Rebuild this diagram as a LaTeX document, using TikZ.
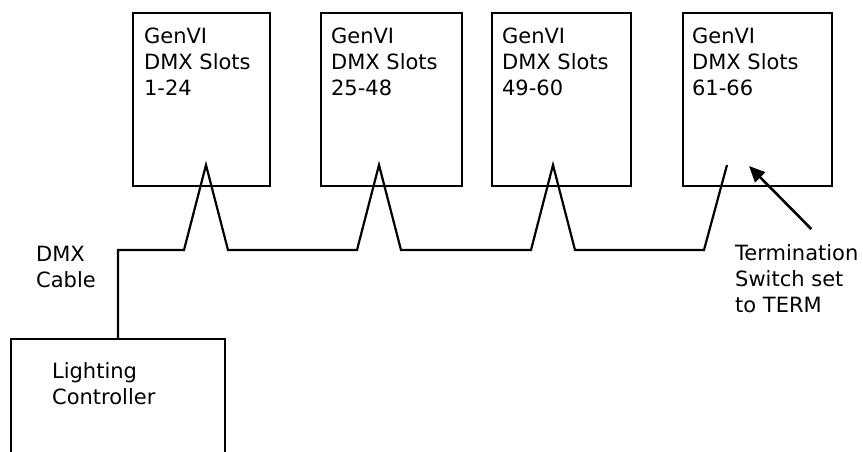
\documentclass[tikz,border=0pt]{standalone}
\usepackage{fontspec}
\setmainfont{DejaVu Sans}
\usetikzlibrary{positioning, arrows.meta}

\begin{document}
\begin{tikzpicture}[
		x=1pt, y=-1pt,
		font=\fontsize{21}{26}\selectfont,
		unit/.style={draw, line width=2.2pt, minimum height=173pt, inner sep=0pt},
		boxtext/.style={align=left, inner sep=0pt, anchor=north west},
		cable/.style={line width=2.2pt},
		pointer/.style={line width=2.6pt, -{Triangle[length=16pt, width=14pt]}}
	]

		\useasboundingbox (0,0) rectangle (863,452);
		\clip (0,0) rectangle (863,452);

		% Equipos GenVI
		\node[unit, minimum width=137pt] (g1) at (201.5,99.5) {};
		\node[unit, minimum width=141pt] (g2) at (391.5,99.5) {};
		\node[unit, minimum width=139pt] (g3) at (561.5,99.5) {};
		\node[unit, minimum width=149pt] (g4) at (757.5,99.5) {};

		\node[boxtext] (t1) [below right=15.5pt and 12pt of g1.north west] {GenVI\\DMX Slots\\1-24};
		\node[boxtext] (t2) [below right=15.5pt and 11pt of g2.north west] {GenVI\\DMX Slots\\25-48};
		\node[boxtext] (t3) [below right=15.5pt and 11pt of g3.north west] {GenVI\\DMX Slots\\49-60};
		\node[boxtext] (t4) [below right=15.5pt and 10pt of g4.north west] {GenVI\\DMX Slots\\61-66};

		% Controlador (abierto por abajo)
		\node[unit, minimum width=214pt, minimum height=200pt] (ctrl) at (118,439) {};
		\node[boxtext] (ctrltext) [below right=24pt and 42pt of ctrl.north west] {Lighting\\Controller};

		% Cable DMX
		\node[boxtext] (dmx) at (36,245.5) {DMX\\Cable};
		\coordinate (sw) at (727,165);
		\draw[cable] (ctrl.north) |- (184,250) -- (206,165) -- (228,250)
			-- (357,250) -- (379,165) -- (401,250)
			-- (531,250) -- (553,165) -- (575,250)
			-- (704,250) -- (sw);

		% Terminacion
		\coordinate (switch) at (749,166);
		\node[boxtext] (term) at (735,244.5) {Termination\\Switch set\\to TERM};
		\draw[pointer] ([xshift=14.5pt, yshift=15.5pt]term.north) -- (switch);

	\end{tikzpicture}
\end{document}
